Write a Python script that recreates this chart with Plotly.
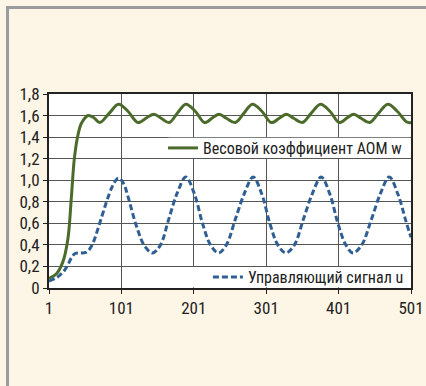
import plotly.graph_objects as go

# Sampled values of the two signals over steps 1..501
w_x = [1, 11, 20, 27, 32, 36, 41, 46, 55, 63, 71, 84, 97, 110, 124, 136, 146, 156,
       167, 178, 190, 203, 216, 227, 236, 246, 258, 270, 282, 295, 308, 320, 329,
       339, 351, 363, 376, 389, 402, 413, 422, 432, 444, 456, 469, 482, 495, 501]
w_y = [0.09, 0.13, 0.24, 0.45, 0.85, 1.20, 1.42, 1.53, 1.60, 1.58, 1.535, 1.62,
       1.705, 1.64, 1.535, 1.58, 1.612, 1.575, 1.535, 1.62, 1.705, 1.64, 1.535,
       1.58, 1.612, 1.575, 1.535, 1.62, 1.705, 1.64, 1.535, 1.58, 1.612, 1.575,
       1.535, 1.62, 1.705, 1.64, 1.535, 1.58, 1.612, 1.575, 1.535, 1.62, 1.705,
       1.64, 1.54, 1.535]

u_x = [1, 10, 16, 22, 27, 32, 37, 44, 52, 57, 62, 71, 80, 89, 97, 104, 110, 122,
       133, 144, 155, 166, 178, 190, 202, 213, 224, 235, 246, 258, 271, 283, 295,
       306, 317, 328, 340, 352, 365, 377, 389, 400, 411, 421, 433, 446, 459, 471,
       483, 494, 501]
u_y = [0.065, 0.09, 0.12, 0.16, 0.215, 0.28, 0.32, 0.325, 0.33, 0.36, 0.42, 0.60,
       0.79, 0.95, 1.02, 0.97, 0.85, 0.57, 0.39, 0.325, 0.40, 0.63, 0.88, 1.03,
       0.87, 0.60, 0.40, 0.325, 0.40, 0.63, 0.88, 1.03, 0.87, 0.60, 0.40, 0.325,
       0.40, 0.63, 0.88, 1.03, 0.87, 0.60, 0.40, 0.325, 0.40, 0.63, 0.88, 1.03,
       0.87, 0.62, 0.47]

x_ticks = [1, 101, 201, 301, 401, 501]
y_ticks = [0, 0.2, 0.4, 0.6, 0.8, 1.0, 1.2, 1.4, 1.6, 1.8]
y_tick_text = ["0", "0,2", "0,4", "0,6", "0,8", "1,0", "1,2", "1,4", "1,6", "1,8"]

name_w = "Весовой коэффициент AOM w"
name_u = "Управляющий сигнал u"

FONT = "Roboto Condensed, Liberation Sans Narrow, Arial Narrow, sans-serif"
TXT = "#222222"
BG = "#fdf5e5"
GRID = "#555555"

fig = go.Figure()
fig.add_trace(go.Scatter(
    x=w_x, y=w_y, name=name_w, mode="lines", line_shape="spline",
    line=dict(color="#4b6b2b", width=3), legend="legend"))
fig.add_trace(go.Scatter(
    x=u_x, y=u_y, name=name_u, mode="lines", line_shape="spline",
    line=dict(color="#2f5f93", width=3, dash="6px,3px"), legend="legend2"))

# white panels behind the legend entries, between two gridlines
fig.add_shape(type="rect", xref="x", yref="y", x0=166, x1=500, y0=1.206, y1=1.394,
              fillcolor="white", line_width=0, layer="between")
fig.add_shape(type="rect", xref="x", yref="y", x0=196, x1=500, y0=0.006, y1=0.194,
              fillcolor="white", line_width=0, layer="between")

# page frame on the left and top
fig.add_shape(type="line", xref="paper", yref="paper",
              x0=-0.1146, x1=-0.1146, y0=1.446, y1=-0.6,
              line=dict(color="#999b9d", width=3))
fig.add_shape(type="line", xref="paper", yref="paper",
              x0=-0.1188, x1=1.2, y0=1.4458, y1=1.4458,
              line=dict(color="#999b9d", width=3))

legend_style = dict(xanchor="left", yanchor="middle", bgcolor="rgba(0,0,0,0)",
                    borderwidth=0, itemwidth=30,
                    font=dict(family=FONT, size=16, color=TXT))

axis_style = dict(showgrid=True, gridcolor=GRID, gridwidth=1,
                  showline=True, linecolor=TXT, linewidth=2, mirror=True,
                  ticks="outside", ticklen=4, tickcolor=TXT, zeroline=False,
                  tickfont=dict(family=FONT, size=17, color=TXT))

fig.update_layout(
    width=426, height=386,
    margin=dict(l=49, r=15, t=94, b=98, autoexpand=False),
    paper_bgcolor=BG, plot_bgcolor="white",
    font=dict(family=FONT, size=16, color=TXT),
    showlegend=True,
    legend=dict(x=0.315, y=0.7216, **legend_style),
    legend2=dict(x=0.439, y=0.0567, **legend_style),
    xaxis=dict(range=[1, 501], tickvals=x_ticks,
               ticktext=[str(v) for v in x_ticks], **axis_style),
    yaxis=dict(range=[0, 1.8], tickvals=y_ticks, ticktext=y_tick_text,
               **axis_style),
)

fig.write_html("out.html")
